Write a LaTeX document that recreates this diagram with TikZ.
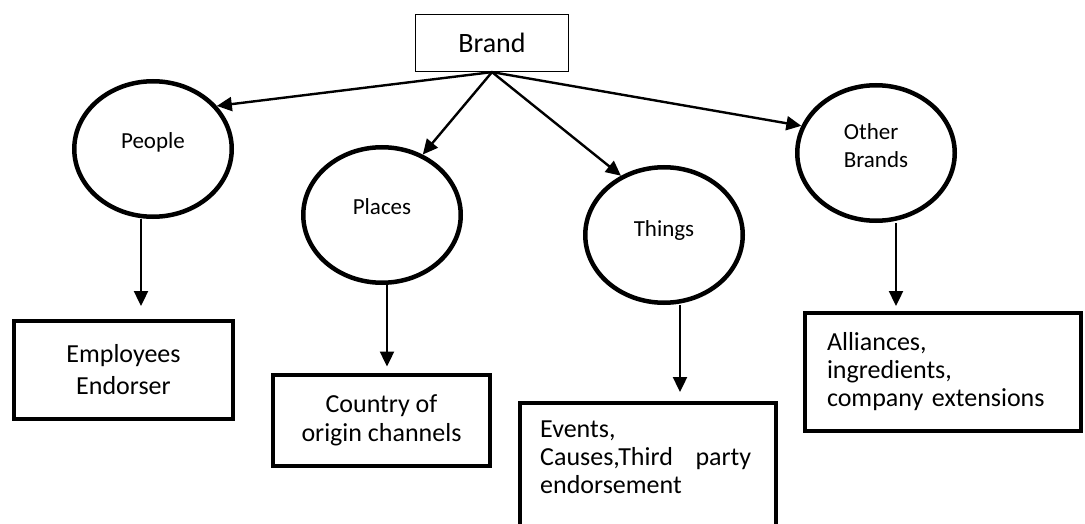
\documentclass[tikz,border=0pt]{standalone}
\usepackage{fontspec}
\setmainfont{Carlito}
\usetikzlibrary{shapes.geometric,arrows.meta}
\begin{document}
\begin{tikzpicture}[x=1pt,y=-1pt,
  ell/.style={ellipse,draw,line width=4.5pt,inner sep=0pt,minimum width=157.5pt,minimum height=135.5pt},
  elltext/.style={font=\fontsize{23}{28}\selectfont,inner sep=0pt},
  bbox/.style={rectangle,draw,line width=4pt,inner sep=0pt},
  boxtext/.style={font=\fontsize{26}{28}\selectfont},
  arr/.style={line width=2.4pt,-{Triangle[length=15pt,width=14pt]}}]
\clip (0,0) rectangle (1085,524);
\fill[white] (0,0) rectangle (1085,524);
% root
\node[draw,line width=1.2pt,minimum width=153pt,minimum height=57pt,inner sep=0pt,
      font=\fontsize{28}{34}\selectfont] (brand) at (492,43) {Brand};
% ellipses
\node[ell,label={[elltext,yshift=7pt]center:People}] (people) at (153,149) {};
\node[ell,label={[elltext,yshift=8pt]center:Places}] (places) at (382,215) {};
\node[ell,label={[elltext,yshift=5pt]center:Things}] (things) at (664,235) {};
\node[ell,label={[elltext,yshift=7pt,align=left]center:Other\\Brands}] (other) at (876,153) {};
% boxes
\node[bbox,boxtext,font=\fontsize{26}{32}\selectfont,align=center,minimum width=219pt,minimum height=98pt] (emp) at (123.5,370) {Employees\\Endorser};
\node[bbox,boxtext,font=\fontsize{26}{29}\selectfont,align=center,minimum width=217pt,minimum height=91pt] (country) at (381.5,420) {Country of\\origin channels};
\node[bbox,boxtext,align=left,text width=232pt,inner xsep=22pt,minimum height=118pt] (alliance) at (943,372) {Alliances,\\ingredients,\\company extensions};
\node[bbox,minimum width=256pt,minimum height=140pt,
      label={[boxtext,anchor=north west,inner sep=0pt,align=left,xshift=22pt,yshift=-20pt]north west:Events,\\\hbox to 211pt{Causes,Third\hfill party}\\endorsement}] (events) at (648,473) {};
% connectors from root
\draw[arr] (brand.south) -- (people.34);
\draw[arr] (brand.south) -- (places.56);
\draw[arr] (brand.south) -- (things.126);
\draw[arr] (brand.south) -- (other.160);
% connectors down
\draw[arr,shorten >=13pt] ([xshift=-12pt]people.south) -- ([xshift=-12pt]people.south |- emp.north);
\draw[arr,shorten >=6pt] ([xshift=5pt]places.south) -- ([xshift=5pt]places.south |- country.north);
\draw[arr,shorten >=9pt] ([xshift=16pt]things.south) -- ([xshift=16pt]things.south |- events.north);
\draw[arr,shorten >=5pt] ([xshift=20pt]other.south) -- ([xshift=20pt]other.south |- alliance.north);
\end{tikzpicture}
\end{document}
